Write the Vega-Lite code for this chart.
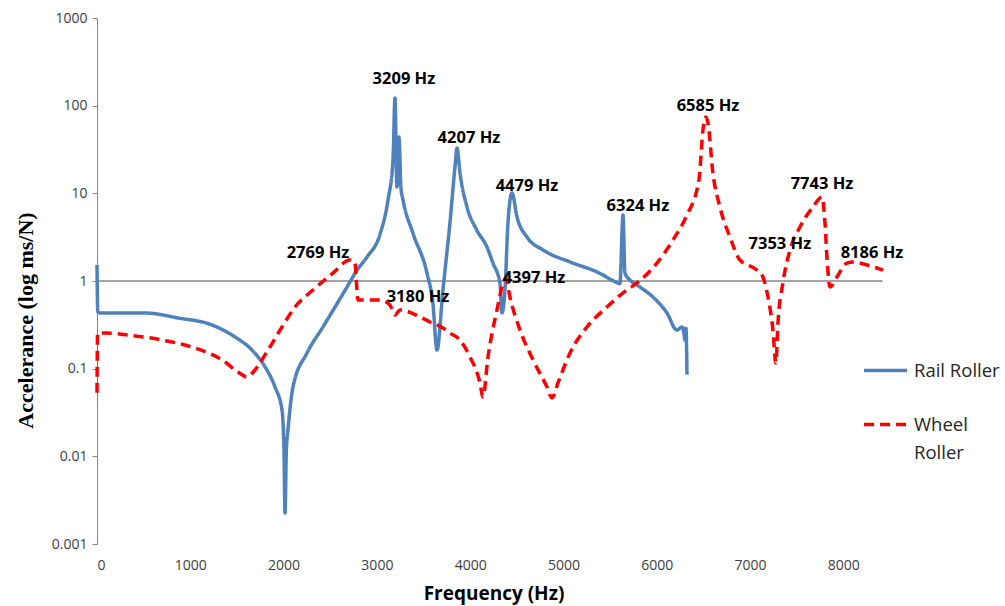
{
  "$schema": "https://vega.github.io/schema/vega-lite/v6.json",
  "width": 793,
  "height": 526,
  "autosize": {"type": "none"},
  "padding": {"left": 97, "top": 18, "right": 115, "bottom": 62},
  "background": "white",
  "config": {"view": {"stroke": null}, "font": "Open Sans", "style": {"guide-label": {"lineHeight": 28}}},
  "datasets": {
    "curves": [
      {"series": "Rail Roller", "f": 0, "a": 1.52},
      {"series": "Rail Roller", "f": 8, "a": 0.45},
      {"series": "Rail Roller", "f": 32, "a": 0.432},
      {"series": "Rail Roller", "f": 514, "a": 0.432},
      {"series": "Rail Roller", "f": 868, "a": 0.379},
      {"series": "Rail Roller", "f": 1233, "a": 0.315},
      {"series": "Rail Roller", "f": 1479, "a": 0.23},
      {"series": "Rail Roller", "f": 1661, "a": 0.163},
      {"series": "Rail Roller", "f": 1801, "a": 0.105},
      {"series": "Rail Roller", "f": 1908, "a": 0.0618},
      {"series": "Rail Roller", "f": 1983, "a": 0.0338},
      {"series": "Rail Roller", "f": 2004, "a": 0.012},
      {"series": "Rail Roller", "f": 2015, "a": 0.00226},
      {"series": "Rail Roller", "f": 2030, "a": 0.012},
      {"series": "Rail Roller", "f": 2047, "a": 0.02},
      {"series": "Rail Roller", "f": 2101, "a": 0.0618},
      {"series": "Rail Roller", "f": 2251, "a": 0.151},
      {"series": "Rail Roller", "f": 2422, "a": 0.299},
      {"series": "Rail Roller", "f": 2680, "a": 0.854},
      {"series": "Rail Roller", "f": 2787, "a": 1.33},
      {"series": "Rail Roller", "f": 2894, "a": 1.88},
      {"series": "Rail Roller", "f": 3033, "a": 3.4},
      {"series": "Rail Roller", "f": 3119, "a": 8.4},
      {"series": "Rail Roller", "f": 3173, "a": 24},
      {"series": "Rail Roller", "f": 3194, "a": 122},
      {"series": "Rail Roller", "f": 3215, "a": 11.8},
      {"series": "Rail Roller", "f": 3237, "a": 43.8},
      {"series": "Rail Roller", "f": 3258, "a": 11.5},
      {"series": "Rail Roller", "f": 3280, "a": 8.4},
      {"series": "Rail Roller", "f": 3387, "a": 3.5},
      {"series": "Rail Roller", "f": 3537, "a": 1.23},
      {"series": "Rail Roller", "f": 3601, "a": 0.55},
      {"series": "Rail Roller", "f": 3644, "a": 0.163},
      {"series": "Rail Roller", "f": 3708, "a": 0.79},
      {"series": "Rail Roller", "f": 3783, "a": 4.59},
      {"series": "Rail Roller", "f": 3837, "a": 19.9},
      {"series": "Rail Roller", "f": 3859, "a": 32.9},
      {"series": "Rail Roller", "f": 3891, "a": 17},
      {"series": "Rail Roller", "f": 3966, "a": 6.98},
      {"series": "Rail Roller", "f": 4070, "a": 3.82},
      {"series": "Rail Roller", "f": 4180, "a": 2.44},
      {"series": "Rail Roller", "f": 4244, "a": 1.6},
      {"series": "Rail Roller", "f": 4319, "a": 0.949},
      {"series": "Rail Roller", "f": 4341, "a": 0.432},
      {"series": "Rail Roller", "f": 4373, "a": 0.79},
      {"series": "Rail Roller", "f": 4405, "a": 4.59},
      {"series": "Rail Roller", "f": 4448, "a": 10.1},
      {"series": "Rail Roller", "f": 4502, "a": 5.37},
      {"series": "Rail Roller", "f": 4609, "a": 3.17},
      {"series": "Rail Roller", "f": 4780, "a": 2.26},
      {"series": "Rail Roller", "f": 5070, "a": 1.65},
      {"series": "Rail Roller", "f": 5359, "a": 1.27},
      {"series": "Rail Roller", "f": 5584, "a": 0.949},
      {"series": "Rail Roller", "f": 5605, "a": 0.93},
      {"series": "Rail Roller", "f": 5638, "a": 5.66},
      {"series": "Rail Roller", "f": 5659, "a": 1.23},
      {"series": "Rail Roller", "f": 5712, "a": 1.03},
      {"series": "Rail Roller", "f": 5820, "a": 0.854},
      {"series": "Rail Roller", "f": 5959, "a": 0.657},
      {"series": "Rail Roller", "f": 6109, "a": 0.432},
      {"series": "Rail Roller", "f": 6216, "a": 0.276},
      {"series": "Rail Roller", "f": 6270, "a": 0.299},
      {"series": "Rail Roller", "f": 6291, "a": 0.255},
      {"series": "Rail Roller", "f": 6302, "a": 0.212},
      {"series": "Rail Roller", "f": 6313, "a": 0.29},
      {"series": "Rail Roller", "f": 6324, "a": 0.085},
      {"series": "Wheel Roller", "f": 0, "a": 0.053},
      {"series": "Wheel Roller", "f": 6, "a": 0.255},
      {"series": "Wheel Roller", "f": 86, "a": 0.255},
      {"series": "Wheel Roller", "f": 332, "a": 0.242},
      {"series": "Wheel Roller", "f": 697, "a": 0.212},
      {"series": "Wheel Roller", "f": 1050, "a": 0.172},
      {"series": "Wheel Roller", "f": 1340, "a": 0.126},
      {"series": "Wheel Roller", "f": 1511, "a": 0.0917},
      {"series": "Wheel Roller", "f": 1608, "a": 0.0804},
      {"series": "Wheel Roller", "f": 1693, "a": 0.0966},
      {"series": "Wheel Roller", "f": 1833, "a": 0.163},
      {"series": "Wheel Roller", "f": 1983, "a": 0.299},
      {"series": "Wheel Roller", "f": 2122, "a": 0.505},
      {"series": "Wheel Roller", "f": 2315, "a": 0.79},
      {"series": "Wheel Roller", "f": 2529, "a": 1.23},
      {"series": "Wheel Roller", "f": 2712, "a": 1.74},
      {"series": "Wheel Roller", "f": 2765, "a": 1.6},
      {"series": "Wheel Roller", "f": 2797, "a": 0.607},
      {"series": "Wheel Roller", "f": 2894, "a": 0.607},
      {"series": "Wheel Roller", "f": 3033, "a": 0.607},
      {"series": "Wheel Roller", "f": 3140, "a": 0.532},
      {"series": "Wheel Roller", "f": 3194, "a": 0.41},
      {"series": "Wheel Roller", "f": 3248, "a": 0.467},
      {"series": "Wheel Roller", "f": 3462, "a": 0.389},
      {"series": "Wheel Roller", "f": 3569, "a": 0.341},
      {"series": "Wheel Roller", "f": 3708, "a": 0.291},
      {"series": "Wheel Roller", "f": 3783, "a": 0.255},
      {"series": "Wheel Roller", "f": 3891, "a": 0.212},
      {"series": "Wheel Roller", "f": 3998, "a": 0.136},
      {"series": "Wheel Roller", "f": 4105, "a": 0.0687},
      {"series": "Wheel Roller", "f": 4137, "a": 0.0476},
      {"series": "Wheel Roller", "f": 4191, "a": 0.136},
      {"series": "Wheel Roller", "f": 4287, "a": 0.467},
      {"series": "Wheel Roller", "f": 4341, "a": 0.854},
      {"series": "Wheel Roller", "f": 4384, "a": 1.08},
      {"series": "Wheel Roller", "f": 4426, "a": 0.657},
      {"series": "Wheel Roller", "f": 4534, "a": 0.276},
      {"series": "Wheel Roller", "f": 4673, "a": 0.126},
      {"series": "Wheel Roller", "f": 4823, "a": 0.0618},
      {"series": "Wheel Roller", "f": 4877, "a": 0.0463},
      {"series": "Wheel Roller", "f": 4941, "a": 0.0687},
      {"series": "Wheel Roller", "f": 5070, "a": 0.151},
      {"series": "Wheel Roller", "f": 5252, "a": 0.299},
      {"series": "Wheel Roller", "f": 5466, "a": 0.505},
      {"series": "Wheel Roller", "f": 5680, "a": 0.79},
      {"series": "Wheel Roller", "f": 5788, "a": 0.949},
      {"series": "Wheel Roller", "f": 6002, "a": 1.6},
      {"series": "Wheel Roller", "f": 6173, "a": 2.93},
      {"series": "Wheel Roller", "f": 6313, "a": 5.37},
      {"series": "Wheel Roller", "f": 6452, "a": 14.2},
      {"series": "Wheel Roller", "f": 6495, "a": 52.7},
      {"series": "Wheel Roller", "f": 6527, "a": 74.1},
      {"series": "Wheel Roller", "f": 6549, "a": 63},
      {"series": "Wheel Roller", "f": 6602, "a": 17},
      {"series": "Wheel Roller", "f": 6677, "a": 6.98},
      {"series": "Wheel Roller", "f": 6784, "a": 3.18},
      {"series": "Wheel Roller", "f": 6891, "a": 1.74},
      {"series": "Wheel Roller", "f": 7074, "a": 1.33},
      {"series": "Wheel Roller", "f": 7138, "a": 1.11},
      {"series": "Wheel Roller", "f": 7192, "a": 0.657},
      {"series": "Wheel Roller", "f": 7245, "a": 0.276},
      {"series": "Wheel Roller", "f": 7277, "a": 0.116},
      {"series": "Wheel Roller", "f": 7299, "a": 0.332},
      {"series": "Wheel Roller", "f": 7352, "a": 0.95},
      {"series": "Wheel Roller", "f": 7428, "a": 2.26},
      {"series": "Wheel Roller", "f": 7535, "a": 4.13},
      {"series": "Wheel Roller", "f": 7674, "a": 6.98},
      {"series": "Wheel Roller", "f": 7771, "a": 9.08},
      {"series": "Wheel Roller", "f": 7803, "a": 4.59},
      {"series": "Wheel Roller", "f": 7824, "a": 1.88},
      {"series": "Wheel Roller", "f": 7856, "a": 0.855},
      {"series": "Wheel Roller", "f": 7931, "a": 1.11},
      {"series": "Wheel Roller", "f": 8038, "a": 1.6},
      {"series": "Wheel Roller", "f": 8103, "a": 1.65},
      {"series": "Wheel Roller", "f": 8253, "a": 1.52},
      {"series": "Wheel Roller", "f": 8425, "a": 1.33}
    ],
    "notes": [
      {"f": 3290, "a": 201, "label": "3209 Hz"},
      {"f": 3987, "a": 42.7, "label": "4207 Hz"},
      {"f": 4609, "a": 12.1, "label": "4479 Hz"},
      {"f": 5798, "a": 7.17, "label": "6324 Hz"},
      {"f": 6549, "a": 98.9, "label": "6585 Hz"},
      {"f": 7771, "a": 12.8, "label": "7743 Hz"},
      {"f": 7320, "a": 2.64, "label": "7353 Hz"},
      {"f": 8307, "a": 2.09, "label": "8186 Hz"},
      {"f": 2369, "a": 2.09, "label": "2769 Hz"},
      {"f": 3441, "a": 0.657, "label": "3180 Hz"},
      {"f": 4684, "a": 1.08, "label": "4397 Hz"}
    ]
  },
  "layer": [
    {
      "data": {"values": [{}]},
      "mark": {"type": "rule", "color": "#868686", "strokeWidth": 1.3},
      "encoding": {
        "x": {"datum": 0, "type": "quantitative"},
        "x2": {"datum": 8420},
        "y": {"datum": 1, "type": "quantitative"}
      }
    },
    {
      "data": {"name": "curves"},
      "mark": {"type": "line", "strokeWidth": 3.5, "strokeJoin": "round", "interpolate": "monotone"},
      "encoding": {
        "x": {
          "field": "f", "type": "quantitative",
          "scale": {"domain": [0, 8500], "nice": false, "zero": false},
          "axis": {
            "values": [0, 1000, 2000, 3000, 4000, 5000, 6000, 7000, 8000],
            "format": "d", "domain": false, "ticks": false, "grid": false,
            "labelPadding": 14, "labelFontSize": 14, "labelColor": "#404040",
            "labelFont": "Open Sans",
            "title": "Frequency (Hz)", "titleFontSize": 19, "titleFontWeight": "bold",
            "titleColor": "#000000", "titleFont": "Open Sans",
            "titleY": 55, "titleBaseline": "alphabetic"
          }
        },
        "y": {
          "field": "a", "type": "quantitative",
          "scale": {"type": "log", "domain": [0.001, 1000], "nice": false},
          "axis": {
            "values": [0.001, 0.01, 0.1, 1, 10, 100, 1000],
            "format": "~g", "grid": false,
            "domainColor": "#868686", "tickColor": "#868686", "tickSize": 5,
            "labelPadding": 5, "labelFontSize": 14, "labelColor": "#404040",
            "labelFont": "Open Sans",
            "title": "Accelerance (log ms/N)", "titleFont": "Liberation Serif",
            "titleFontSize": 22, "titleFontWeight": "bold", "titleColor": "#000000",
            "titleX": -72, "titleY": 302, "titleAngle": -90, "titleBaseline": "middle"
          }
        },
        "color": {
          "field": "series", "type": "nominal",
          "scale": {"domain": ["Rail Roller", "Wheel Roller"], "range": ["#4F81BD", "#FF0000"]},
          "legend": {
            "orient": "none", "legendX": 765, "legendY": 329, "title": null,
            "padding": 0, "symbolType": "stroke", "symbolSize": 1849,
            "symbolStrokeWidth": 3.5, "labelFontSize": 18.5, "labelFont": "Open Sans",
            "labelColor": "#262626", "labelOffset": 5, "rowPadding": 21,
            "labelExpr": "datum.label === 'Wheel Roller' ? ['Wheel', 'Roller'] : datum.label"
          }
        },
        "strokeDash": {
          "field": "series", "type": "nominal",
          "scale": {"domain": ["Rail Roller", "Wheel Roller"], "range": [[1, 0], [10, 6]]},
          "legend": {
            "orient": "none", "legendX": 765, "legendY": 329, "title": null,
            "padding": 0, "symbolType": "stroke", "symbolSize": 1849,
            "symbolStrokeWidth": 3.5, "labelFontSize": 18.5, "labelFont": "Open Sans",
            "labelColor": "#262626", "labelOffset": 5, "rowPadding": 21,
            "labelExpr": "datum.label === 'Wheel Roller' ? ['Wheel', 'Roller'] : datum.label"
          }
        }
      }
    },
    {
      "data": {"name": "notes"},
      "mark": {"type": "text", "font": "Open Sans", "fontWeight": "bold", "fontSize": 16.5, "color": "#000000", "align": "center", "baseline": "middle"},
      "encoding": {
        "x": {"field": "f", "type": "quantitative"},
        "y": {"field": "a", "type": "quantitative"},
        "text": {"field": "label"}
      }
    }
  ]
}
